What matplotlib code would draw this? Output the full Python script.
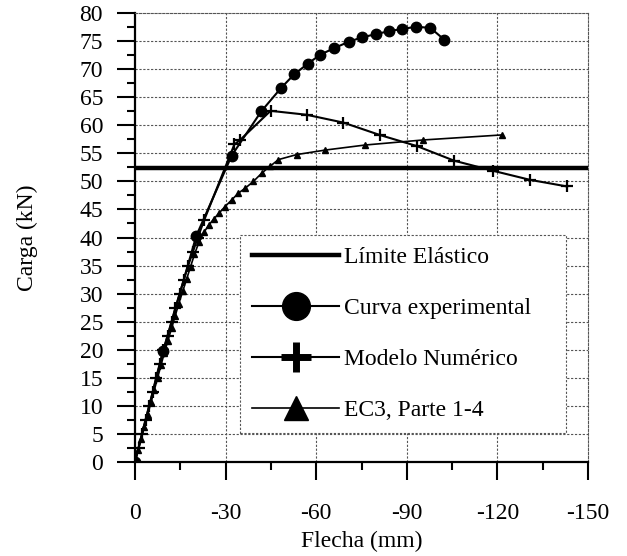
import numpy as np
import matplotlib.pyplot as plt
from matplotlib.ticker import MultipleLocator

plt.rcParams['font.family'] = ['Liberation Serif', 'DejaVu Serif']
plt.rcParams['axes.unicode_minus'] = False

# data (Flecha in mm, Carga in kN)
exp_x = [0, -9.4, -20.3, -32.0, -41.8, -48.4, -52.7, -57.2, -61.3, -66.0, -70.7, -75.1,
         -79.9, -84.0, -88.4, -93.1, -97.8, -102.4]
exp_y = [0, 19.8, 40.3, 54.6, 62.5, 66.7, 69.1, 71.0, 72.6, 73.8, 74.9, 75.7,
         76.3, 76.8, 77.2, 77.6, 77.4, 75.3]

num_x = [0, -1.2, -2.3, -3.5, -4.7, -5.9, -7.0, -8.2, -9.4, -10.8, -12.1, -13.4,
         -14.8, -16.2, -17.6, -19.2, -20.8, -22.9, -32.9, -34.8, -44.9, -56.8,
         -69.0, -81.0, -93.4, -105.7, -118.6, -130.7, -143.1]
num_y = [0, 2.5, 5.0, 7.5, 10.0, 12.5, 15.0, 17.5, 20.0, 22.5, 25.0, 27.5,
         30.0, 32.5, 35.0, 37.5, 40.0, 43.1, 56.6, 57.4, 62.6, 61.9,
         60.5, 58.3, 56.3, 53.7, 51.9, 50.3, 49.1]

ec3_x = [0, -1.0, -2.0, -3.1, -4.2, -5.3, -6.4, -7.5, -8.6, -9.7, -10.9, -12.1,
         -13.3, -14.5, -15.8, -17.1, -18.4, -19.7, -21.2, -22.8, -24.4, -26.1,
         -27.9, -29.8, -32.0, -34.2, -36.5, -39.2, -42.0, -44.7, -47.5, -53.6,
         -63.0, -76.2, -95.4, -121.5]
ec3_y = [0, 2.0, 4.0, 6.2, 8.4, 10.6, 12.8, 15.0, 17.2, 19.4, 21.6, 23.8,
         26.0, 28.2, 30.4, 32.6, 34.8, 37.0, 39.2, 40.9, 42.2, 43.3,
         44.4, 45.5, 46.7, 47.9, 48.8, 50.0, 51.5, 52.7, 53.9, 54.8,
         55.6, 56.5, 57.4, 58.3]

limite = 52.4

fig = plt.figure(figsize=(6.27, 5.56), dpi=100)
ax = fig.add_axes([135/627, 1-461.7/556, 453/627, 448.4/556])

grid_style = dict(color='#555555', lw=0.8, ls=(0, (2, 1.5)), zorder=0)
for v in np.arange(5, 80, 5):
    ax.axhline(v, **grid_style)
for v in [-30, -60, -90, -120]:
    ax.axvline(v, **grid_style)

l0, = ax.plot([0, -150], [limite, limite], color='black', lw=3.2, label='Límite Elástico', zorder=3)
l1, = ax.plot(exp_x, exp_y, color='black', lw=1.5, marker='o', ms=7.5, label='Curva experimental', zorder=4)
l2, = ax.plot(num_x, num_y, color='black', lw=1.5, marker='+', ms=8, mew=1.6, label='Modelo Numérico', zorder=4)
l3, = ax.plot(ec3_x, ec3_y, color='black', lw=1.2, marker='^', ms=5, label='EC3, Parte 1-4', zorder=4)

ax.set_xlim(0, -150)
ax.set_ylim(0, 80)
ax.xaxis.set_major_locator(MultipleLocator(30))
ax.xaxis.set_minor_locator(MultipleLocator(15))
ax.yaxis.set_major_locator(MultipleLocator(5))
ax.yaxis.set_minor_locator(MultipleLocator(2.5))
ax.tick_params(which='major', direction='out', length=13, width=1.5, labelsize=17, pad=10, color='black')
ax.tick_params(which='minor', direction='out', length=6, width=1.5)
ax.tick_params(axis='x', which='major', pad=17)

for s in ['left', 'bottom']:
    ax.spines[s].set_linewidth(1.6)
for s in ['top', 'right']:
    ax.spines[s].set_linewidth(0.8)
    ax.spines[s].set_linestyle((0, (2, 1.5)))
    ax.spines[s].set_color('#555555')

ax.set_xlabel('Flecha (mm)', fontsize=17, labelpad=5)
ax.set_ylabel('Carga (kN)', fontsize=17, labelpad=30)

leg = ax.legend(loc='upper left', bbox_to_anchor=(0.232, 0.506, 0.719, 0.0), mode='expand',
                borderaxespad=0, fontsize=17, handlelength=3.7, handletextpad=0.2,
                labelspacing=1.25, borderpad=0.5, fancybox=False, framealpha=1)
leg.get_frame().set_edgecolor('#555555')
leg.get_frame().set_linewidth(0.8)
leg.get_frame().set_linestyle((0, (2, 1.5)))
sizes = [0, 20, 22, 17]
for h, s in zip(leg.legend_handles, sizes):
    h.set_markersize(s)
    if s == 22:
        h.set_markeredgewidth(5)

fig.savefig('out.png', dpi=100)
